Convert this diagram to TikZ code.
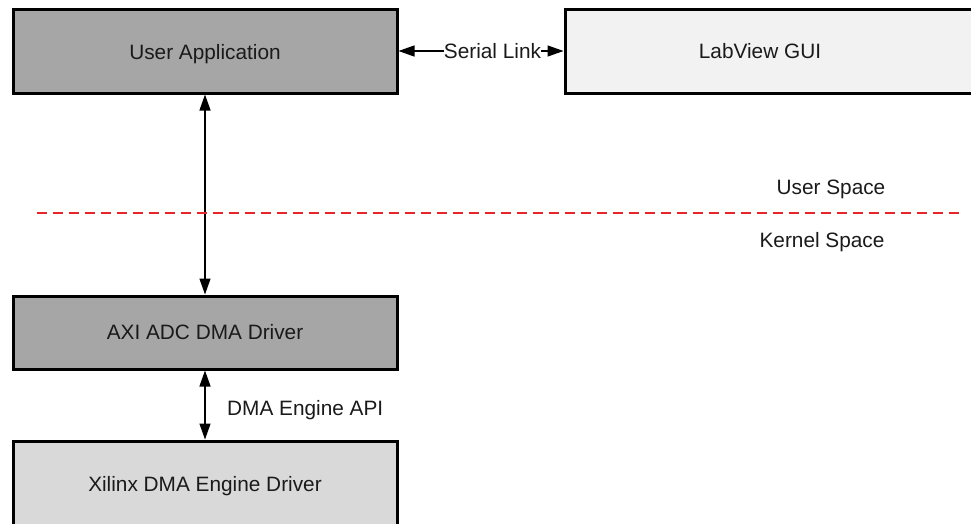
\documentclass[tikz,border=0pt]{standalone}
\usepackage{fontspec}
\setmainfont{Liberation Sans}
\usetikzlibrary{arrows.meta}
\definecolor{darkfill}{HTML}{A6A6A6}
\definecolor{lightfill}{HTML}{F2F2F2}
\definecolor{midfill}{HTML}{D9D9D9}
\definecolor{redline}{HTML}{E8262A}
\definecolor{txt}{HTML}{1A1A1A}
\begin{document}
\begin{tikzpicture}[x=1pt,y=-1pt,
  box/.style={draw=black,line width=3pt,minimum width=384pt,minimum height=84pt,inner sep=0pt},
  lbl/.style={inner sep=0pt,anchor=base,text=txt,font=\fontsize{20.8}{24}\selectfont},
  tip/.style={-{Triangle[length=16pt,width=11pt]}},
  conn/.style={line width=1.3pt,{Triangle[length=16pt,width=11pt]}-{Triangle[length=16pt,width=11pt]}}]
\useasboundingbox (0,0) rectangle (971,523);
\begin{scope}
\clip (0,0) rectangle (971,523);
\node[box,fill=darkfill] (ua) at (205,51) {};
\node[box,fill=lightfill,minimum width=420pt] (gui) at (775,51) {};
\node[box,fill=darkfill,minimum height=73pt] (axi) at (205,332.5) {};
\node[box,fill=midfill,minimum height=100pt] (xil) at (205,491) {};
\end{scope}
\node[lbl] (uat) at (205,59) {User Application};
\node[lbl] (guit) at (760,58.5) {LabView GUI};
\node[lbl] (axit) at (205,339.5) {AXI ADC DMA Driver};
\node[lbl] (xilt) at (205,491.5) {Xilinx DMA Engine Driver};
\node[lbl] (sl) at (492.5,58.5) {Serial Link};
\draw[line width=1.3pt,tip] (sl.west |- ua.east) -- (ua.east);
\draw[line width=1.3pt,tip] (sl.east |- gui.west) -- (gui.west);
\draw[conn] (ua.south) -- (axi.north);
\draw[conn] (axi.south) -- (xil.north);
\node[lbl,anchor=base west] (api) at (227,415.5) {DMA Engine API};
\coordinate (dl) at (37,213);
\coordinate (dr) at (960,213);
\draw[redline,line width=1.5pt,dash pattern=on 10pt off 6pt] (dl) -- (dr);
\node[lbl] (us) at (831,194.5) {User Space};
\node[lbl] (ks) at (822,247) {Kernel Space};
\end{tikzpicture}
\end{document}
